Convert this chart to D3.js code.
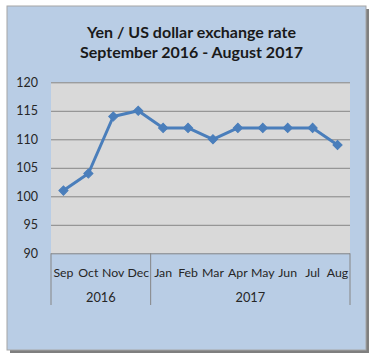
<!DOCTYPE html>
<html>
<head>
<meta charset="utf-8">
<script src="https://cdn.jsdelivr.net/npm/d3@7"></script>
<style>
html,body{margin:0;padding:0;background:#fff;}
svg{display:block;}
</style>
</head>
<body>
<svg id="chart" width="381" height="363"></svg>
<script>
// ---- data ----
const months = ["Sep","Oct","Nov","Dec","Jan","Feb","Mar","Apr","May","Jun","Jul","Aug"];
const years = ["2016","2016","2016","2016","2017","2017","2017","2017","2017","2017","2017","2017"];
const rates = [101,104,114,115,112,112,110,112,112,112,112,109];
const yTicks = [90,95,100,105,110,115,120];
const titleLines = ["Yen / US dollar exchange rate","September 2016 - August 2017"];

const svg = d3.select("#chart");
const font = "Lato, 'Liberation Sans', sans-serif";

// frame with shadow
svg.append("rect").attr("x",10).attr("y",9).attr("width",359).attr("height",344).attr("fill","#7f7f7f");
svg.append("rect").attr("x",7).attr("y",6).attr("width",359).attr("height",344)
  .attr("fill","#b9cde5").attr("stroke","#a6a6a6").attr("stroke-width",1);

const plot = {left:51, right:350, top:82.3, bottom:253.3};

const x = d3.scaleBand().domain(months.map((m,i)=>i)).range([plot.left,plot.right]).padding(0);
const y = d3.scaleLinear().domain([90,120]).range([plot.bottom,plot.top]);

// plot area
svg.append("rect").attr("x",plot.left).attr("y",plot.top)
  .attr("width",plot.right-plot.left).attr("height",plot.bottom-plot.top).attr("fill","#d9d9d9");

// gridlines via axis
const yAxis = d3.axisLeft(y).tickValues(yTicks).tickSize(-(plot.right-plot.left)).tickPadding(13).tickFormat(d3.format("d"));
const gy = svg.append("g").attr("transform",`translate(${plot.left},0)`).call(yAxis);
gy.select(".domain").remove();
gy.selectAll(".tick line").attr("stroke","#858585").attr("stroke-width",1);
gy.selectAll(".tick text").attr("font-family",font).attr("font-size",12.5).attr("fill","#262626");

// category axis separators
const sepTop = plot.bottom, sepBottom = 305;
const groupBounds = [0,4,12];
groupBounds.forEach(i=>{
  const xx = i<12 ? x(i) : x(11)+x.bandwidth();
  svg.append("line").attr("x1",xx).attr("x2",xx).attr("y1",sepTop).attr("y2",sepBottom)
    .attr("stroke","#858585").attr("stroke-width",1);
});

// month labels
svg.append("g").selectAll("text").data(months).join("text")
  .attr("x",(d,i)=>x(i)+x.bandwidth()/2).attr("y",276.5)
  .attr("text-anchor","middle").attr("font-family",font).attr("font-size",12.3).attr("fill","#262626")
  .text(d=>d);

// year labels
const yearGroups = d3.groups(years.map((yr,i)=>({yr,i})), d=>d.yr);
svg.append("g").selectAll("text").data(yearGroups).join("text")
  .attr("x",d=>{const a=d[1][0].i,b=d[1][d[1].length-1].i;return (x(a)+x(b)+x.bandwidth())/2;})
  .attr("y",301.5).attr("text-anchor","middle").attr("font-family",font).attr("font-size",12.8).attr("fill","#262626")
  .text(d=>d[0]);

// line
const cx = i=>x(i)+x.bandwidth()/2;
svg.append("path").datum(rates)
  .attr("d",d3.line().x((d,i)=>cx(i)).y(d=>y(d)))
  .attr("fill","none").attr("stroke","#4a7ebb").attr("stroke-width",3).attr("stroke-linejoin","round");

svg.append("g").selectAll("path").data(rates).join("path")
  .attr("d",d3.symbol().type(d3.symbolSquare).size(42))
  .attr("transform",(d,i)=>`translate(${cx(i)},${y(d)}) rotate(45)`)
  .attr("fill","#4a7ebb").attr("stroke","#4a7ebb").attr("stroke-width",1);

// title
svg.append("g").selectAll("text").data(titleLines).join("text")
  .attr("x",191.5).attr("y",(d,i)=>38+i*20)
  .attr("text-anchor","middle").attr("font-family",font).attr("font-weight","bold")
  .attr("font-size",16).attr("fill","#1a1a1a").text(d=>d);
</script>
</body>
</html>
